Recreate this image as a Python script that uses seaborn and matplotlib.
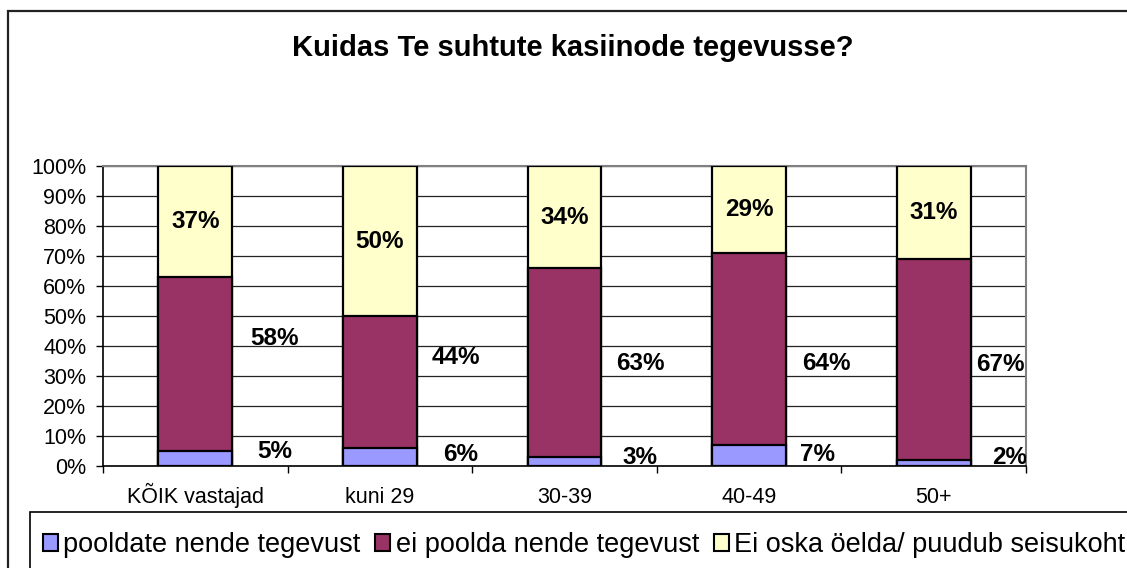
import numpy as np
import pandas as pd
import matplotlib
matplotlib.use('Agg')
import matplotlib.pyplot as plt
from matplotlib.patches import Patch, Rectangle
import seaborn as sns

# data (percent)
groups = ['KÕIK vastajad', 'kuni 29', '30-39', '40-49', '50+']
pooldate = [5, 6, 3, 7, 2]
ei_poolda = [58, 44, 63, 64, 67]
ei_oska = [37, 50, 34, 29, 31]
series_names = ['pooldate nende tegevust', 'ei poolda nende tegevust', 'Ei oska öelda/ puudub seisukoht']
ytick_labels = ['0%', '10%', '20%', '30%', '40%', '50%', '60%', '70%', '80%', '90%', '100%']

# where the side labels sit in the original (manually dragged there)
maroon_label_y = [42.5, 36, 34.3, 34.3, 33.7]
maroon_label_dx = [0.43, 0.41, 0.41, 0.42, 0.36]
blue_label_y = [4.7, 3.7, 3.0, 3.7, 2.7]
blue_label_dx = [0.43, 0.44, 0.41, 0.37, 0.41]

colors = ['#9999FF', '#993366', '#FFFFCC']

sns.set_style('white')
plt.rcParams['font.family'] = ['Liberation Sans', 'DejaVu Sans']
plt.rcParams['text.color'] = 'black'
plt.rcParams['xtick.color'] = 'black'
plt.rcParams['ytick.color'] = 'black'

df = pd.DataFrame({'group': groups, 'blue': pooldate, 'maroon': ei_poolda, 'yellow': ei_oska})
df['c1'] = df['blue']
df['c2'] = df['blue'] + df['maroon']
df['c3'] = df['c2'] + df['yellow']

fig = plt.figure(figsize=(11.27, 5.68), dpi=100)
ax = fig.add_axes([103/1127, 1-466/568, 923/1127, 300/568])

# stacked bars: draw cumulative totals, tallest first
for col, c in zip(['c3', 'c2', 'c1'], colors[::-1]):
    sns.barplot(data=df, x='group', y=col, color=c, width=0.4, edgecolor='black',
                linewidth=1.6, saturation=1, ax=ax, errorbar=None, zorder=3)

ax.set_ylim(0, 100)
ax.set_xlim(-0.5, len(groups) - 0.5)
ax.set_yticks(np.arange(0, 101, 10))
ax.set_yticklabels(ytick_labels, fontsize=15.5)
ax.set_xticks(range(len(groups)))
ax.set_xticklabels(groups, fontsize=15.5, va='baseline')
ax.set_xticks(np.arange(-0.5, len(groups)), minor=True)
ax.tick_params(axis='x', which='major', length=0, pad=26.6)
ax.tick_params(axis='x', which='minor', length=5, width=1, color='black', direction='out', bottom=True)
ax.tick_params(axis='y', length=5, width=1, color='black', direction='out', left=True, pad=7)
ax.set_xlabel('')
ax.set_ylabel('')
ax.yaxis.grid(True, color='#222222', linewidth=0.9)
ax.xaxis.grid(False)
ax.set_axisbelow(True)
for s in ['top', 'right']:
    ax.spines[s].set_color('#808080')
    ax.spines[s].set_linewidth(1.5)
for s in ['left', 'bottom']:
    ax.spines[s].set_color('black')
    ax.spines[s].set_linewidth(1.2)

# value labels
for i in range(len(groups)):
    ytop = df['c2'][i] + df['yellow'][i] / 2
    ax.text(i, ytop, f'{ei_oska[i]}%', ha='center', va='center', fontsize=17.5, fontweight='bold', zorder=5)
    ax.text(i + maroon_label_dx[i], maroon_label_y[i], f'{ei_poolda[i]}%', ha='center', va='center',
            fontsize=17.5, fontweight='bold', zorder=5)
    ax.text(i + blue_label_dx[i], blue_label_y[i], f'{pooldate[i]}%', ha='center', va='center',
            fontsize=17.5, fontweight='bold', zorder=5, clip_on=True)

fig.text(573/1127, 1-48/568, 'Kuidas Te suhtute kasiinode tegevusse?', ha='center', va='center',
         fontsize=21, fontweight='bold')

# outer chart frame and legend frame
fig.patches.append(Rectangle((8/1127, -0.1), 1.2, 1-11/568 + 0.1, transform=fig.transFigure,
                             fill=False, edgecolor='#222222', linewidth=1.6))
fig.patches.append(Rectangle((30/1127, -0.1), 1.2, 1-512/568 + 0.1, transform=fig.transFigure,
                             fill=False, edgecolor='black', linewidth=1.2))

handles = [Patch(facecolor=c, edgecolor='black', linewidth=1.5) for c in colors]
fig.legend(handles, series_names, loc='center left', bbox_to_anchor=(43/1127, 1-545/568),
           ncol=3, frameon=False, fontsize=19.5, handlelength=0.55, handleheight=0.55,
           handletextpad=0.2, columnspacing=0.55, borderpad=0, borderaxespad=0)

fig.savefig('out.png', dpi=100)
